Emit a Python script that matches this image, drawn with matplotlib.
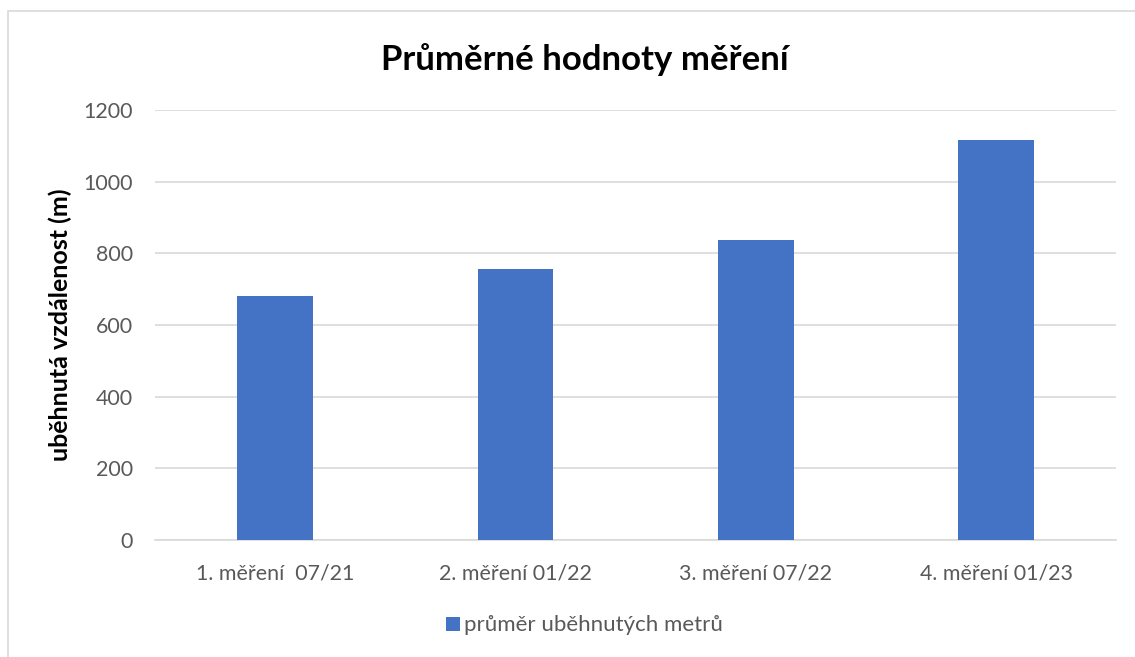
import matplotlib.pyplot as plt
import matplotlib.patches as patches

categories = ["1. měření  07/21", "2. měření 01/22", "3. měření 07/22", "4. měření 01/23"]
values = [682, 755, 837, 1117]
series_name = "průměr uběhnutých metrů"

FONT = "Lato"
BLUE = "#4472C4"
GRAY = "#595959"

fig = plt.figure(figsize=(11.35, 6.57), dpi=100, facecolor="white")
ax = fig.add_axes([0.1366, 0.178, 0.847, 0.6546])

x = range(len(categories))
ax.bar(x, values, width=0.315, color=BLUE, label=series_name, zorder=3)

ax.set_xlim(-0.5, len(categories) - 0.5)
ax.set_ylim(0, 1200)
ax.set_yticks(range(0, 1201, 200))
ax.set_xticks(list(x))
ax.set_xticklabels(categories, fontname=FONT, fontsize=15.4, color=GRAY)
for lbl in ax.get_yticklabels():
    lbl.set_fontname(FONT)
    lbl.set_fontsize(15.4)
    lbl.set_color(GRAY)

ax.grid(axis="y", color="#D9D9D9", lw=1.2, zorder=0)
for s in ["top", "right", "left"]:
    ax.spines[s].set_visible(False)
ax.spines["bottom"].set_color("#D9D9D9")
ax.spines["bottom"].set_linewidth(1.2)
ax.tick_params(axis="x", length=0, pad=17)
ax.tick_params(axis="y", length=0, pad=16)

ax.set_ylabel("uběhnutá vzdálenost (m)", fontname=FONT, fontsize=18, fontweight="bold", labelpad=8)
fig.text(0.515, 0.91, "Průměrné hodnoty měření", ha="center", va="center",
         fontname=FONT, fontsize=25, fontweight="bold")

leg = fig.legend(loc="center", bbox_to_anchor=(0.515, 0.048), frameon=False,
                 prop={"family": FONT, "size": 16}, handlelength=0.6, handleheight=0.6,
                 handletextpad=0.2)
for t in leg.get_texts():
    t.set_color(GRAY)

# outer chart border
border = patches.Rectangle((8 / 1135, -0.1), 1.2, 1.1 - 11 / 657,
                           transform=fig.transFigure, fill=False,
                           edgecolor="#D9D9D9", lw=1.2)
fig.add_artist(border)

fig.savefig("out.png", dpi=100, facecolor="white")
